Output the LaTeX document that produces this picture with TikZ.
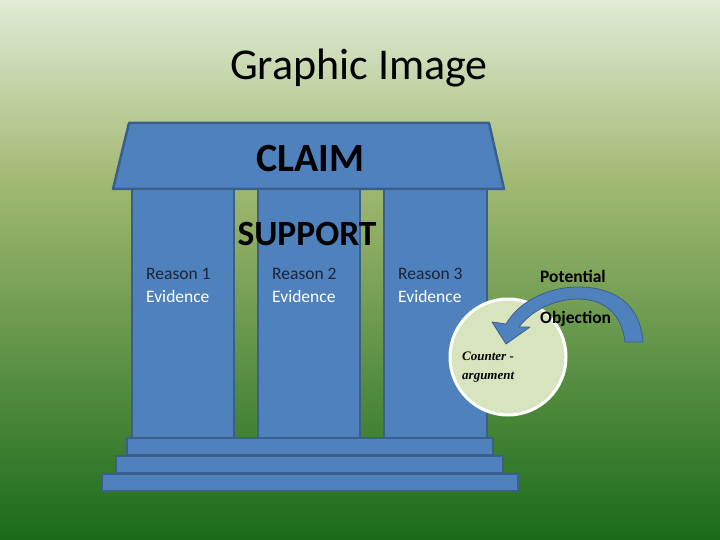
\documentclass[tikz,border=0pt]{standalone}
\usepackage{fontspec}
\setmainfont{Carlito}
\newfontfamily\cursfont{Liberation Serif}
\usepackage{xcolor}
\usetikzlibrary{positioning,calc}

\definecolor{bgtop}{HTML}{E1EBD6}
\definecolor{bgmid}{HTML}{A2B972}
\definecolor{bgbot}{HTML}{196B19}
\definecolor{pillar}{HTML}{4F81BD}
\definecolor{pillaredge}{HTML}{3A5F8F}
\definecolor{counterfill}{HTML}{D7E4BD}
\definecolor{reasontext}{HTML}{1C2436}

\begin{document}
\begin{tikzpicture}[x=1pt,y=-1pt,
    block/.style={fill=pillar, draw=pillaredge, line width=2.5pt, line join=round},
    reason/.style={anchor=west, inner sep=0pt, font=\fontsize{17.5}{20}\selectfont, text=reasontext},
    evid/.style={anchor=west, inner sep=0pt, font=\fontsize{17.5}{20}\selectfont, text=white},
    objtext/.style={anchor=west, inner sep=0pt, font=\fontsize{17.5}{20}\selectfont\bfseries},
    counter/.style={anchor=west, inner sep=0pt, font=\cursfont\fontsize{13}{15}\selectfont\bfseries\itshape}]
    \useasboundingbox (0,0) rectangle (720,540);

    % Background
    \shade[top color=bgtop, bottom color=bgmid] (0,0) rectangle (720,181);
    \shade[top color=bgmid, bottom color=bgbot] (0,180) rectangle (720,540);

    % Title
    \node (title) at (359,68) {\fontsize{44}{50}\selectfont Graphic Image};

    % Pillars
    \draw[block] (132,189) rectangle (234,438);
    \draw[block] (258,189) rectangle (360,438);
    \draw[block] (384,189) rectangle (487,438);

    % Roof
    \draw[block] (129,123) -- (489,123) -- (504,189) -- (113,189) -- cycle;

    % Steps
    \draw[block] (127,438) rectangle (493,455);
    \draw[block] (116,456) rectangle (503,473);
    \draw[block] (102,474) rectangle (518,491);

    % Counter-argument circle
    \draw[fill=counterfill, draw=white, line width=3pt] (508,357) circle (58);

    % Curved arrow
    \draw[fill=pillar, draw=pillaredge, line width=0.8pt, line join=round]
        (643,342) .. controls (640,302) and (612,287) .. (578,287)
        .. controls (546,287) and (518,303) .. (506,324)
        -- (492,322) -- (506,344) -- (530,327) -- (519,327)
        .. controls (531,311) and (554,299) .. (578,299)
        .. controls (604,299) and (622,314) .. (625,342) -- cycle;

    % Labels
    \node (claim) at (310,159) {\fontsize{40}{44}\selectfont\bfseries CLAIM};
    \node (support) at (307,234) {\fontsize{35.5}{40}\selectfont\bfseries SUPPORT};

    \node[reason] (r1) at (146,274) {Reason 1};
    \node[evid] (e1) at (146,296) {Evidence};
    \node[reason] (r2) at (272,274) {Reason 2};
    \node[evid] (e2) at (272,296) {Evidence};
    \node[reason] (r3) at (398,274) {Reason 3};
    \node[evid] (e3) at (398,296) {Evidence};

    \node[objtext] (pot) at (540,276) {Potential};
    \node[objtext] (obj) at (540,319) {Objection};

    \node[counter] (count) at (462,356) {Counter -};
    \node[counter] (argu) at (462,377) {argument};
\end{tikzpicture}
\end{document}
